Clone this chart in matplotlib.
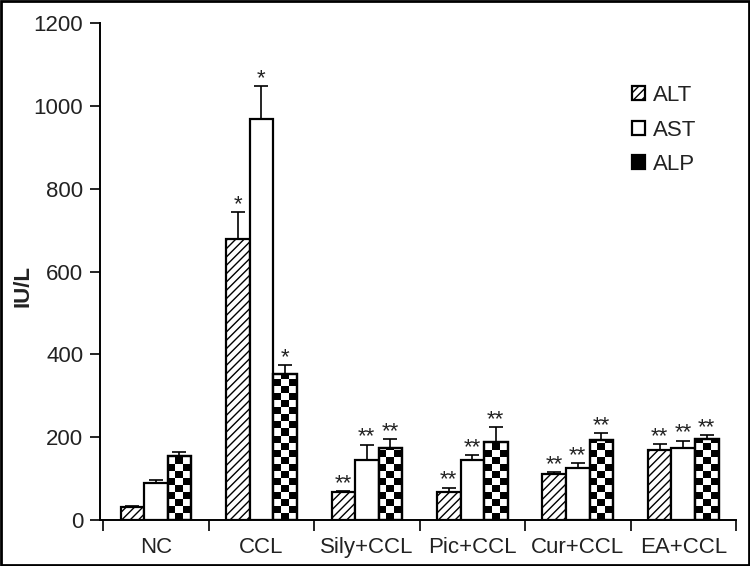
import matplotlib
matplotlib.use("Agg")
import matplotlib.pyplot as plt
import numpy as np
from matplotlib.patches import Rectangle, Patch

plt.rcParams["font.family"] = ["Liberation Sans", "DejaVu Sans"]
plt.rcParams["hatch.linewidth"] = 1.0

groups = ["NC", "CCL", "Sily+CCL", "Pic+CCL", "Cur+CCL", "EA+CCL"]
alt = [32, 678, 68, 68, 110, 168]
ast = [90, 968, 146, 144, 126, 173]
alp = [154, 352, 173, 188, 192, 195]
alt_err = [2, 65, 2, 10, 6, 15]
ast_err = [7, 80, 36, 13, 11, 18]
alp_err = [10, 22, 22, 36, 17, 10]
stars = ["", "*", "**", "**", "**", "**"]

fig = plt.figure(figsize=(7.5, 5.66), dpi=100)
ax = fig.add_axes([0.1333, 0.0813, 0.848, 0.878])

x = np.arange(len(groups))
w = 0.223
kw = dict(edgecolor="black", linewidth=1.6, zorder=2)
b1 = ax.bar(x - w, alt, w, facecolor="white", hatch="////", **kw)
b2 = ax.bar(x, ast, w, facecolor="white", **kw)
b3 = ax.bar(x + w, alp, w, facecolor="white", **kw)

# checkerboard fill for ALP bars, clipped to each bar
cell_h = 17
for bar in b3:
    x0, bw, h = bar.get_x(), bar.get_width(), bar.get_height()
    cw = bw / 3
    nrows = int(np.ceil(h / cell_h))
    for r in range(nrows):
        for c in range(3):
            if (r + c) % 2 == 1:
                rect = Rectangle((x0 + c * cw, r * cell_h), cw, cell_h,
                                 facecolor="black", edgecolor="none", zorder=2.5)
                ax.add_patch(rect)
                rect.set_clip_path(bar)
    ax.add_patch(Rectangle((x0, 0), bw, h, facecolor="none", edgecolor="black",
                           linewidth=1.6, zorder=3))

for xs, vals, errs in [(x - w, alt, alt_err), (x, ast, ast_err), (x + w, alp, alp_err)]:
    ax.errorbar(xs, vals, yerr=[np.zeros(len(errs)), errs], fmt="none",
                ecolor="black", elinewidth=1.2, capsize=5, capthick=1.2, zorder=1)
    for xi, v, e, s in zip(xs, vals, errs, stars):
        if s:
            ax.annotate(s, (xi, v + e), xytext=(0, -2), textcoords="offset points",
                        ha="center", va="bottom", fontsize=16, color="#222222")

ax.set_xlim(-0.53, 5.5)
ax.set_ylim(0, 1200)
ax.set_yticks(range(0, 1201, 200))
ax.set_xticks(x)
ax.set_xticklabels(groups)
ax.set_xticks(np.arange(-0.5, 5.6, 1), minor=True)
ax.tick_params(axis="x", which="major", length=0, pad=12, labelsize=16, labelcolor="#222222")
ax.tick_params(axis="x", which="minor", length=8, width=1.2, direction="out")
ax.tick_params(axis="y", length=7, width=1.2, labelsize=16, pad=5, labelcolor="#222222")
ax.set_ylabel("IU/L", fontsize=16, fontweight="bold", color="#222222")
ax.yaxis.set_label_coords(-0.105, 0.47)
for s in ["top", "right"]:
    ax.spines[s].set_visible(False)
for s in ["left", "bottom"]:
    ax.spines[s].set_linewidth(1.4)

handles = [Patch(facecolor="white", edgecolor="black", hatch="////", linewidth=1.6),
           Patch(facecolor="white", edgecolor="black", linewidth=1.6),
           Patch(facecolor="black", edgecolor="black", linewidth=1.6)]
leg = ax.legend(handles, ["ALT", "AST", "ALP"], loc="upper left", bbox_to_anchor=(0.805, 0.915),
                frameon=False, fontsize=16, handlelength=0.6, handleheight=0.6,
                handletextpad=0.35, labelspacing=0.6)
for t in leg.get_texts():
    t.set_color("#222222")

fig.add_artist(Rectangle((0.001, 0.001), 0.997, 0.997, transform=fig.transFigure,
                         facecolor="none", edgecolor="black", linewidth=2))

fig.savefig("out.png", dpi=100)
